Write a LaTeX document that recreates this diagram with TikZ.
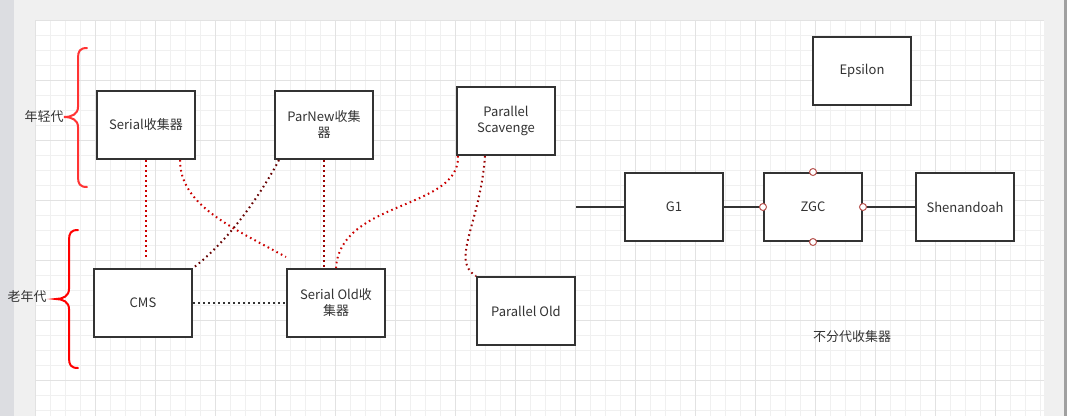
\documentclass[tikz,border=0pt]{standalone}
\usepackage{fontspec}
\setmainfont{Noto Sans CJK SC}
\usetikzlibrary{positioning}

\definecolor{boxline}{HTML}{333333}
\definecolor{sidegrey}{HTML}{DCDDE1}
\definecolor{panelgrey}{HTML}{F0F0F0}
\definecolor{edgegrey}{HTML}{A0A0A0}
\definecolor{minorgrid}{HTML}{F0F0F0}
\definecolor{majorgrid}{HTML}{E2E2E2}
\definecolor{bracered}{HTML}{FF3333}
\definecolor{linkred}{HTML}{CC0000}
\definecolor{linkdark}{HTML}{990000}
\definecolor{linkmaroon}{HTML}{660000}
\definecolor{portred}{HTML}{B85450}

\begin{document}
\begin{tikzpicture}[
    x=1pt, y=-1pt,
    node distance=178pt,
    every node/.style={align=center, text=boxline, font=\fontsize{13}{16}\selectfont},
    gcbox/.style={rectangle, draw=boxline, line width=2pt, fill=white, minimum width=98pt, minimum height=68pt},
    dotline/.style={line width=2pt, dash pattern=on 1.6pt off 3.4pt},
    solidline/.style={line width=2pt, draw=boxline},
    port/.style={line width=1pt, draw=portred, fill=white},
    brace/.style={line width=2pt, line cap=round}
]
    \useasboundingbox (0,0) rectangle (1067,416);

    % Canvas and grid
    \fill[sidegrey] (0,0) rectangle (14,416);
    \fill[panelgrey] (14,0) rectangle (1067,416);
    \fill[edgegrey] (1064,0) rectangle (1067,416);
    \fill[white] (35,20) rectangle (1044,416);
    \foreach \gx in {35,50,...,1040} \draw[minorgrid, line width=1pt] (\gx,20) -- (\gx,416);
    \foreach \gy in {20,35,...,415} \draw[minorgrid, line width=1pt] (35,\gy) -- (1044,\gy);
    \foreach \gx in {35,95,...,1040} \draw[majorgrid, line width=1pt] (\gx,20) -- (\gx,416);
    \foreach \gy in {20,80,...,415} \draw[majorgrid, line width=1pt] (35,\gy) -- (1044,\gy);

    % Nodes - generational collectors
    \node[gcbox] (serial) at (146,125) {Serial收集器};
    \node[gcbox, right of=serial] (parnew) {ParNew收集\\器};
    \node[gcbox] (parscav) at (506,121) {Parallel\\Scavenge};
    \node[gcbox] (cms) at (143,303) {CMS};
    \node[gcbox, right of=cms, node distance=193pt] (serialold) {Serial Old收\\集器};
    \node[gcbox] (parold) at (526,311) {Parallel Old};

    % Nodes - collectors without generations
    \node[gcbox] (g1) at (674,207) {G1};
    \node[gcbox, right of=g1, node distance=139pt] (zgc) {ZGC};
    \node[gcbox, right of=zgc, node distance=152pt] (shen) {Shenandoah};
    \node[gcbox] (epsilon) at (862,71) {Epsilon};
    \coordinate (g1in) at (576,207);

    % Labels
    \node (young) at (44,117) {年轻代};
    \node (old) at (27,297) {老年代};
    \node (nogen) at (852,337) {不分代收集器};

    % Braces
    \draw[brace, draw=bracered] (87,48) .. controls (80,48) and (78,51) .. (78,58) -- (78,107)
        .. controls (78,114) and (72,117) .. (64,117) .. controls (72,117) and (78,120) .. (78,127)
        -- (78,177) .. controls (78,184) and (80,187) .. (87,187);
    \draw[brace, draw=red] (78,230) .. controls (71,230) and (69,233) .. (69,240) -- (69,289)
        .. controls (69,296) and (63,299) .. (56,299) .. controls (63,299) and (69,302) .. (69,309)
        -- (69,358) .. controls (69,365) and (71,368) .. (78,368);

    % Connectors - young to old
    \draw[dotline, draw=linkred, shorten >=11pt] (serial.south) -- (serial.south |- cms.north);
    \draw[dotline, draw=linkred] ([xshift=34pt]serial.south) .. controls +(0,45) and +(-55,-30) .. ([xshift=-50pt, yshift=11pt]serialold.north);
    \draw[dotline, draw=linkmaroon] ([xshift=-45pt]parnew.south) .. controls +(-17,32) and +(37,-28) .. (cms.north east);
    \draw[dotline, draw=linkdark] (parnew.south) -- (parnew.south |- serialold.north);
    \draw[dotline, draw=linkred] ([xshift=-48pt]parscav.south) .. controls +(2,54) and +(4,-68) .. (serialold.north);
    \draw[dotline, draw=linkdark] ([xshift=-21pt]parscav.south) .. controls +(-5,69) and +(-26,-16) .. (parold.north west);
    \draw[dotline, draw=boxline] (cms) -- (serialold);

    % Connectors - G1, ZGC, Shenandoah
    \draw[solidline] (g1in) -- (g1);
    \draw[solidline] (g1) -- (zgc);
    \draw[solidline] (zgc) -- (shen);
    \foreach \side in {north,south,east,west} \draw[port] (zgc.\side) circle (3.5pt);

\end{tikzpicture}
\end{document}
